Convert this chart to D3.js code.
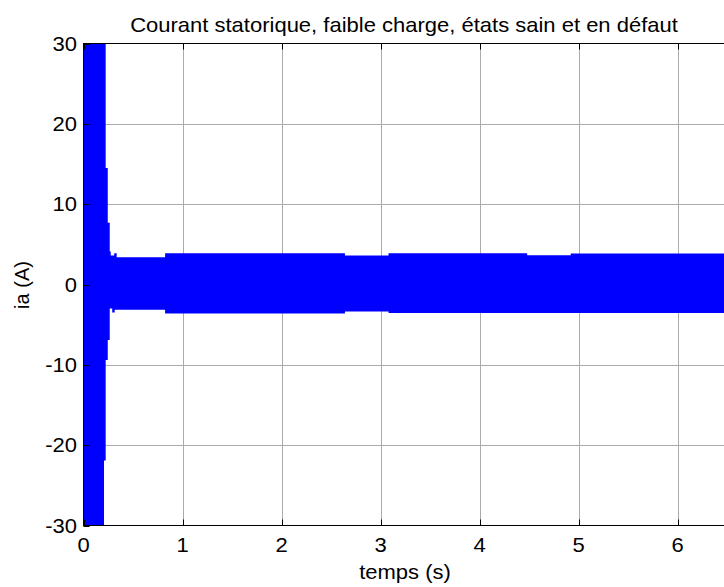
<!DOCTYPE html>
<html>
<head>
<meta charset="utf-8">
<script src="https://cdn.jsdelivr.net/npm/d3@7"></script>
<style>
  html, body { margin: 0; padding: 0; background: #fff; }
  svg { display: block; }
  text { font-family: "Liberation Sans", Arial, Helvetica, sans-serif; fill: #000; }
</style>
</head>
<body>
<svg id="chart" width="724" height="587"></svg>
<script>
// Stator current envelope (A): the 50 Hz trace is so dense that it renders as a
// solid band, so the band limits are stored as step breakpoints (time in s).
const upperTime  = [0,  0.224, 0.245, 0.265, 0.275, 0.31, 0.335, 0.824, 2.64, 3.08, 4.48, 4.92];
const upperValue = [40, 14.5,  7.7,   4.1,   3.6,   3.9,  3.4,   3.9,   3.6,  3.9,  3.65, 3.85];
const lowerTime  = [0,   0.207, 0.224, 0.245, 0.265, 0.29, 0.315, 0.824, 2.64,  3.08];
const lowerValue = [-40, -21.9, -9.4,  -6.9,  -3.0,  -3.5, -3.15, -3.6,  -3.35, -3.55];

const xTicks = [0, 1, 2, 3, 4, 5, 6];
const yTicks = [-30, -20, -10, 0, 10, 20, 30];
const xDomain = [0, 6.5];
const yDomain = [-30, 30];

const titleText = "Courant statorique, faible charge, états sain et en défaut";
const xLabelText = "temps (s)";
const yLabelText = "ia (A)";

const svg = d3.select("#chart");
const plot = { left: 83.5, top: 43.5, right: 727.2, bottom: 525.5 };

const x = d3.scaleLinear().domain(xDomain).range([plot.left, plot.right]);
const y = d3.scaleLinear().domain(yDomain).range([plot.bottom, plot.top]);

svg.append("defs").append("clipPath").attr("id", "plotClip")
  .append("rect")
  .attr("x", plot.left).attr("y", plot.top)
  .attr("width", plot.right - plot.left).attr("height", plot.bottom - plot.top);

// grid
const grid = svg.append("g").attr("stroke", "#ababab").attr("stroke-width", 1);
grid.selectAll("line.vx").data(xTicks.filter(d => d > 0)).join("line")
  .attr("x1", d => Math.round(x(d)) + 0.5).attr("x2", d => Math.round(x(d)) + 0.5)
  .attr("y1", plot.top).attr("y2", plot.bottom);
grid.selectAll("line.hy").data(yTicks.filter(d => d > -30 && d < 30)).join("line")
  .attr("y1", d => Math.round(y(d)) + 0.5).attr("y2", d => Math.round(y(d)) + 0.5)
  .attr("x1", plot.left).attr("x2", plot.right);

// envelope band: upper and lower halves overlap slightly across zero
function stepPoints(ts, vs) {
  const pts = ts.map((t, i) => ({ t, v: vs[i] }));
  pts.push({ t: xDomain[1], v: vs[vs.length - 1] });
  return pts;
}
const band = svg.append("g").attr("clip-path", "url(#plotClip)");
const upperArea = d3.area().curve(d3.curveStepAfter)
  .x(d => x(d.t)).y0(y(0) + 2).y1(d => y(d.v));
const lowerArea = d3.area().curve(d3.curveStepAfter)
  .x(d => x(d.t)).y0(y(0) - 2).y1(d => y(d.v));
band.append("path").datum(stepPoints(upperTime, upperValue))
  .attr("d", upperArea).attr("fill", "#0000ff");
band.append("path").datum(stepPoints(lowerTime, lowerValue))
  .attr("d", lowerArea).attr("fill", "#0000ff");

// axis box and inward ticks
const axes = svg.append("g").attr("stroke", "#000").attr("stroke-width", 1).attr("fill", "none");
axes.append("rect")
  .attr("x", plot.left).attr("y", plot.top)
  .attr("width", plot.right - plot.left).attr("height", plot.bottom - plot.top);
const tickLen = 6;
xTicks.forEach(d => {
  const px = Math.round(x(d)) + 0.5;
  axes.append("line").attr("x1", px).attr("x2", px).attr("y1", plot.bottom).attr("y2", plot.bottom - tickLen);
  axes.append("line").attr("x1", px).attr("x2", px).attr("y1", plot.top).attr("y2", plot.top + tickLen);
});
yTicks.forEach(d => {
  const py = Math.round(y(d)) + 0.5;
  axes.append("line").attr("y1", py).attr("y2", py).attr("x1", plot.left).attr("x2", plot.left + tickLen);
});

// text is drawn slightly wide, as in the exported figure
const fs = 20;
const sx = 1.1;
function label(g, px, py, anchor, str) {
  return g.append("text")
    .attr("transform", `translate(${px},${py}) scale(${sx},1)`)
    .attr("text-anchor", anchor).attr("font-size", fs).text(str);
}
const labels = svg.append("g");
xTicks.forEach(d => label(labels, x(d), 552, "middle", d));
yTicks.forEach(d => label(labels, 77, y(d) + 7, "end", d));

label(labels, 404, 32, "middle", titleText);
label(labels, 405, 579, "middle", xLabelText);
svg.append("text").attr("transform", "translate(29,285) rotate(-90)")
  .attr("text-anchor", "middle").attr("font-size", fs).text(yLabelText);
</script>
</body>
</html>
